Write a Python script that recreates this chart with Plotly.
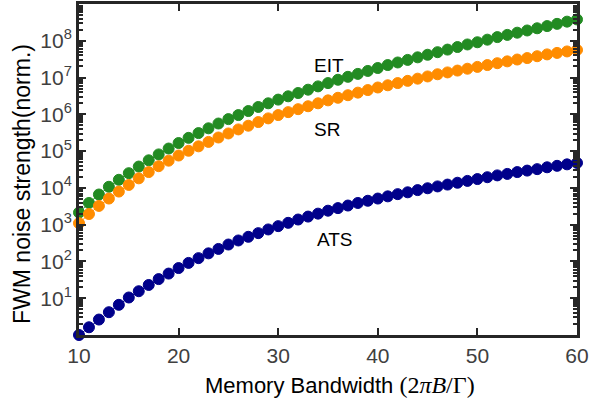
import plotly.graph_objects as go

# Memory bandwidth (2*pi*B/Gamma)
bandwidth = list(range(10, 61))

# log10 of FWM noise strength (normalized)
eit_log10 = [3.33, 3.59, 3.82, 4.03, 4.22, 4.40, 4.58, 4.75, 4.91, 5.07,
             5.22, 5.36, 5.49, 5.62, 5.75, 5.87, 5.98, 6.09, 6.20, 6.30,
             6.40, 6.49, 6.58, 6.67, 6.76, 6.85, 6.94, 7.02, 7.10, 7.18,
             7.26, 7.34, 7.41, 7.48, 7.55, 7.62, 7.69, 7.76, 7.83, 7.90,
             7.96, 8.03, 8.10, 8.16, 8.22, 8.28, 8.34, 8.40, 8.46, 8.52,
             8.58]
sr_log10 = [3.04, 3.29, 3.51, 3.71, 3.90, 4.08, 4.26, 4.43, 4.59, 4.74,
            4.88, 5.01, 5.13, 5.25, 5.37, 5.48, 5.59, 5.69, 5.79, 5.89,
            5.98, 6.06, 6.14, 6.22, 6.30, 6.38, 6.45, 6.52, 6.59, 6.66,
            6.73, 6.79, 6.85, 6.91, 6.97, 7.03, 7.09, 7.14, 7.19, 7.24,
            7.29, 7.34, 7.39, 7.44, 7.49, 7.53, 7.58, 7.63, 7.67, 7.71,
            7.75]
ats_log10 = [0.00, 0.21, 0.42, 0.62, 0.82, 1.02, 1.19, 1.36, 1.52, 1.67,
             1.82, 1.96, 2.09, 2.22, 2.34, 2.46, 2.57, 2.67, 2.77, 2.87,
             2.96, 3.05, 3.14, 3.22, 3.30, 3.38, 3.45, 3.52, 3.59, 3.65,
             3.71, 3.77, 3.83, 3.88, 3.94, 3.99, 4.04, 4.09, 4.14, 4.19,
             4.24, 4.29, 4.34, 4.38, 4.43, 4.47, 4.51, 4.56, 4.60, 4.64,
             4.68]

series_names = ["EIT", "SR", "ATS"]
series_logs = [eit_log10, sr_log10, ats_log10]
series_colors = ["#228B22", "#FF8C00", "#00008B"]

x_ticks = [10, 20, 30, 40, 50, 60]
y_exponents = [1, 2, 3, 4, 5, 6, 7, 8]
y_tickvals = [10 ** e for e in y_exponents]
y_ticktext = ["10<sup>%d</sup>" % e for e in y_exponents]
y_minor = [k * 10 ** d for d in range(0, 9) for k in range(2, 10)]

x_title = ("Memory Bandwidth <span style='font-family:Liberation Serif;font-size:24px'>"
           "(2<i>πB</i>/Γ)</span>")
y_title = "FWM noise strength(norm.)"

# label placement (x in data units, y in log10 units)
label_x = [35.1, 34.9, 35.7]
label_y = [7.34, 5.58, 2.59]

fig = go.Figure()
for name, logs, color in zip(series_names, series_logs, series_colors):
    fig.add_trace(go.Scatter(
        x=bandwidth, y=[10 ** v for v in logs], mode="lines+markers", name=name,
        line=dict(color=color, width=1),
        marker=dict(color=color, size=11, line=dict(color=color, width=1)),
        cliponaxis=False, showlegend=False))

for name, lx, ly in zip(series_names, label_x, label_y):
    fig.add_annotation(x=lx, y=ly, text=name, showarrow=False,
                       font=dict(size=19, color="black", family="Liberation Sans"))

# axis titles
fig.add_annotation(xref="paper", yref="paper", x=0.525, y=-0.151, text=x_title,
                   showarrow=False, xanchor="center", yanchor="middle",
                   font=dict(size=22, color="black", family="Liberation Sans"))
fig.add_annotation(xref="paper", yref="paper", x=-0.114, y=0.457, text=y_title,
                   showarrow=False, textangle=-90, xanchor="center", yanchor="middle",
                   font=dict(size=23, color="black", family="Liberation Sans"))

axis_common = dict(
    showline=True, linewidth=3, linecolor="#262626", mirror="allticks",
    ticks="inside", ticklen=7, tickwidth=2, tickcolor="#262626",
    showgrid=False, zeroline=False, automargin=False,
    tickfont=dict(size=21, color="#404040", family="Liberation Sans"),
)

fig.update_xaxes(range=[10, 60], tickvals=x_ticks, **axis_common)
fig.update_yaxes(type="log", range=[0, 9], tickvals=y_tickvals, ticktext=y_ticktext,
                 minor=dict(tickvals=y_minor, ticks="inside", ticklen=4, tickwidth=2,
                            tickcolor="#262626", showgrid=False),
                 **axis_common)

fig.update_layout(
    width=592, height=411,
    margin=dict(l=79, r=15, t=4, b=76),
    plot_bgcolor="white", paper_bgcolor="white",
    font=dict(family="Liberation Sans"),
)

fig.write_html("out.html", config={"displayModeBar": False},
               post_script="document.body.style.margin='0';")
